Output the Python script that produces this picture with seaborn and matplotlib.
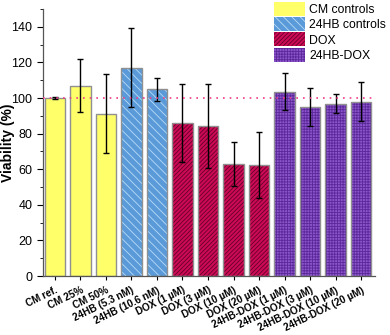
import numpy as np
import pandas as pd
import seaborn as sns
import matplotlib.pyplot as plt
from matplotlib.ticker import MultipleLocator

# data
labels = ["CM ref.", "CM 25%", "CM 50%", "24HB (5.3 nM)", "24HB (10.6 nM)",
          "DOX (1 µM)", "DOX (3 µM)", "DOX (10 µM)", "DOX (20 µM)",
          "24HB-DOX (1 µM)", "24HB-DOX (3 µM)", "24HB-DOX (10 µM)", "24HB-DOX (20 µM)"]
groups = ["CM controls"] * 3 + ["24HB controls"] * 2 + ["DOX"] * 4 + ["24HB-DOX"] * 4
viability = [100, 107, 91.3, 117, 105, 85.8, 84.2, 63, 62.2, 103.6, 95.1, 96.8, 97.9]
errors = [0.4, 15, 22, 22.2, 6.5, 22, 23.6, 12.5, 18.5, 10.3, 10.7, 5.3, 11]

group_order = ["CM controls", "24HB controls", "DOX", "24HB-DOX"]
face_colors = ["#ffff6a", "#5b9ad8", "#cc0a55", "#8c55cc"]
hatch_colors = ["#ffff6a", "#b8dcf8", "#66002a", "#5a2898"]
hatches = [None, "\\\\\\\\", "////////", "++++++"]


def main():
    df = pd.DataFrame({"label": labels, "group": groups,
                       "viability": viability, "err": errors})

    plt.rcParams["font.family"] = ["Liberation Sans", "DejaVu Sans"]
    plt.rcParams["hatch.linewidth"] = 0.6

    fig = plt.figure(figsize=(3.9, 3.35), dpi=100)
    ax = fig.add_axes([0.110, 0.176, 0.852, 0.797])

    # filled + hatched bars (edge colour carries the hatch colour)
    sns.barplot(data=df, x="label", y="viability", hue="group", hue_order=group_order,
                palette=face_colors, saturation=1, dodge=False, width=0.8, linewidth=0,
                errorbar=None, ax=ax, legend=True)
    bars = [p for p in ax.patches if p.get_height() > 0]
    bars.sort(key=lambda p: p.get_x())
    for p, g in zip(bars, df["group"]):
        i = group_order.index(g)
        p.set_hatch(hatches[i])
        p.set_edgecolor(hatch_colors[i])
        p.set_linewidth(0)

    # gray outlines
    sns.barplot(data=df, x="label", y="viability", fill=False, width=0.8,
                color="#909090", linewidth=1.0, errorbar=None, ax=ax)

    ax.errorbar(np.arange(len(labels)), df["viability"], yerr=df["err"],
                fmt="none", ecolor="black", elinewidth=1.0, capsize=2.5, capthick=1.0)

    ax.axhline(100, color="#f03c8a", linestyle=(0, (1, 3)), linewidth=1.2, zorder=5)

    # legend
    handles, leg_labels = ax.get_legend_handles_labels()
    for h, i in zip(handles, range(len(group_order))):
        h.set_hatch(hatches[i])
        h.set_edgecolor(hatch_colors[i])
    ax.legend(handles[:4], leg_labels[:4], loc="upper right", bbox_to_anchor=(1.055, 1.055),
              frameon=False, fontsize=8.8, handlelength=2.5, handleheight=1.4,
              handletextpad=0.35, labelspacing=0.1, borderaxespad=0.2)

    ax.set_ylim(0, 150)
    ax.set_xlim(-0.47, 12.55)
    ax.yaxis.set_minor_locator(MultipleLocator(10))
    ax.set_yticks(range(0, 141, 20))
    ax.tick_params(axis="y", which="major", direction="out", length=4, labelsize=9)
    ax.tick_params(axis="y", which="minor", direction="out", length=2)
    ax.tick_params(axis="x", direction="out", length=3)
    ax.set_xticks(range(len(labels)))
    ax.set_xticklabels(labels, rotation=26, ha="right", rotation_mode="anchor",
                       fontsize=7.2, fontweight="bold")
    ax.set_xlabel("")
    ax.set_ylabel("Viability (%)", fontsize=10, fontweight="bold")
    ax.yaxis.set_label_coords(-0.083, 0.5)
    for s in ["top", "right"]:
        ax.spines[s].set_visible(False)
    for s in ["left", "bottom"]:
        ax.spines[s].set_color("#555555")
        ax.spines[s].set_linewidth(0.9)

    fig.savefig("out.png", dpi=100)


if __name__ == "__main__":
    main()
